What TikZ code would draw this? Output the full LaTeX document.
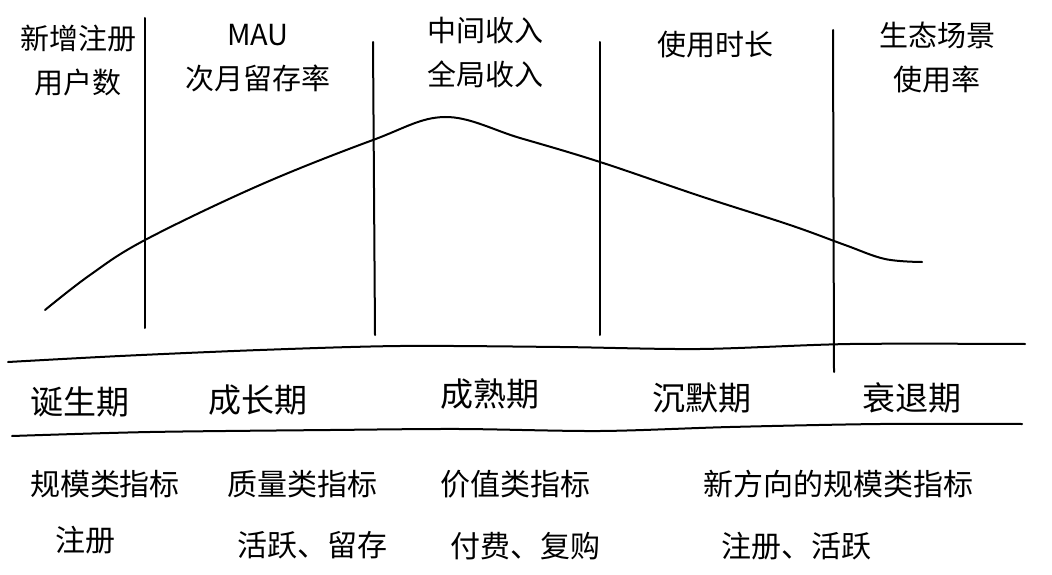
\documentclass[tikz,border=0pt]{standalone}
\usepackage{fontspec}
\newfontfamily\cjk{Noto Sans CJK SC}
\begin{document}
\begin{tikzpicture}[x=1pt,y=-1pt,
  lbl/.style={font=\cjk\fontsize{29}{44}\selectfont, align=center, inner sep=0pt},
  bot/.style={font=\cjk\fontsize{30}{36}\selectfont, inner sep=0pt},
  stage/.style={font=\cjk\fontsize{33}{36}\selectfont, inner sep=0pt},
  ink/.style={line width=2pt, black, line cap=round, line join=round}]
\useasboundingbox[fill=white] (0,0) rectangle (1052,575);
% vertical dividers
\coordinate (v1t) at (145,18); \coordinate (v1b) at (145,328);
\coordinate (v2t) at (373,42); \coordinate (v2b) at (375,335);
\coordinate (v3t) at (600,42); \coordinate (v3b) at (600,335);
\coordinate (v4t) at (833,30); \coordinate (v4b) at (834,372);
\draw[ink] (v1t) -- (v1b);
\draw[ink] (v2t) -- (v2b);
\draw[ink] (v3t) -- (v3b);
\draw[ink] (v4t) -- (v4b);
% lifecycle curve
\draw[ink] plot[smooth, tension=0.6] coordinates {(45,310) (90,275) (145,240) (260,185) (373,140) (445,117) (520,138) (600,162) (700,196) (790,225) (845,245) (885,259) (922,262)};
% horizontal bands
\draw[ink] plot[smooth, tension=0.5] coordinates {(8,362) (120,356) (260,350) (400,346) (560,347) (700,349) (850,344) (1025,344)};
\draw[ink] plot[smooth, tension=0.5] coordinates {(12,436) (150,432) (330,430) (460,429) (600,431) (730,427) (880,424) (1022,424)};
% top metrics
\node[lbl] (m1) at (78,61) {新增注册\\用户数};
\node[lbl] (m2) at (258,58) {MAU\\次月留存率};
\node[lbl] (m3) at (485,52) {中间收入\\全局收入};
\node[lbl] (m4) at (715,45) {使用时长};
\node[lbl] (m5) at (937,57) {生态场景\\使用率};
% stages
\node[stage] (s1) at (80,402) {诞生期};
\node[stage] (s2) at (258,400) {成长期};
\node[stage] (s3) at (490,394) {成熟期};
\node[stage] (s4) at (702,398) {沉默期};
\node[stage] (s5) at (912,398) {衰退期};
% bottom metrics
\node[bot] (b1) at (105,484) {规模类指标};
\node[bot] (b2) at (85,540) {注册};
\node[bot] (b3) at (302,484) {质量类指标};
\node[bot] (b4) at (312,545) {活跃、留存};
\node[bot] (b5) at (515,484) {价值类指标};
\node[bot] (b6) at (525,546) {付费、复购};
\node[bot] (b7) at (838,484) {新方向的规模类指标};
\node[bot] (b8) at (796,546) {注册、活跃};
\end{tikzpicture}
\end{document}
